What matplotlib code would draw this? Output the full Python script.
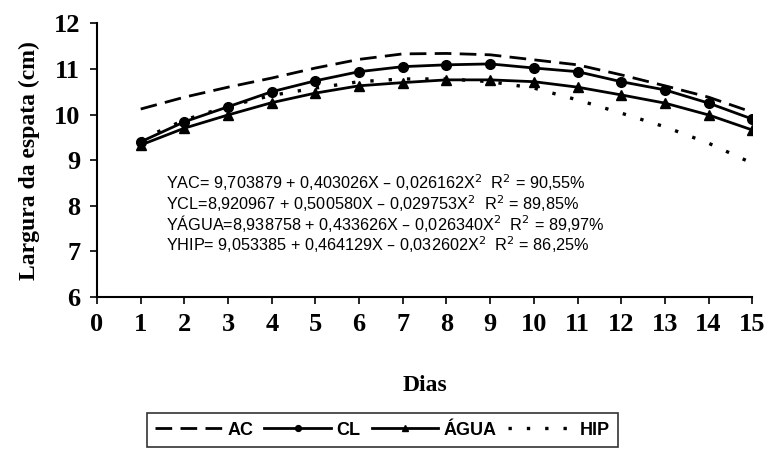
from matplotlib import pyplot as plt

plt.rcParams.update({'font.size': 14})

dias = list(range(1, 16))
ac = [10.12, 10.38, 10.60, 10.80, 11.02, 11.21, 11.33, 11.34, 11.31, 11.20,
      11.09, 10.87, 10.63, 10.38, 10.05]
cl = [9.40, 9.84, 10.17, 10.50, 10.74, 10.94, 11.05, 11.09, 11.11, 11.02,
      10.94, 10.72, 10.54, 10.25, 9.90]
agua = [9.33, 9.70, 9.99, 10.26, 10.47, 10.63, 10.70, 10.76, 10.76, 10.72,
        10.60, 10.43, 10.25, 9.99, 9.66]
hip = [9.45, 9.88, 10.18, 10.42, 10.58, 10.72, 10.78, 10.78, 10.72, 10.58,
       10.32, 10.03, 9.73, 9.37, 8.93]

equacoes = [
    r'YAC= 9,703879 + 0,403026X – 0,026162X$^2$  R$^2$ = 90,55%',
    r'YCL=8,920967 + 0,500580X – 0,029753X$^2$  R$^2$ = 89,85%',
    r'YÁGUA=8,938758 + 0,433626X – 0,026340X$^2$  R$^2$ = 89,97%',
    r'YHIP= 9,053385 + 0,464129X – 0,032602X$^2$  R$^2$ = 86,25%',
]

fig = plt.figure(figsize=(7.7, 4.58), dpi=100)
ax = fig.add_axes([0.126, 0.352, 0.851, 0.597])

ax.plot(dias, ac, color='black', linestyle=(0, (6, 3)), linewidth=2, label='AC')
ax.plot(dias, cl, color='black', linewidth=2, marker='o', markersize=7, label='CL')
ax.plot(dias, agua, color='black', linewidth=2, marker='^', markersize=7, label='ÁGUA')
ax.plot(dias, hip, color='black', linestyle=(0, (1, 4.5)), linewidth=2.4, label='HIP')

ax.set_xlim(0, 15)
ax.set_ylim(6, 12)
ax.set_xticks(range(0, 16))
ax.set_yticks(range(6, 13))
ax.spines['top'].set_visible(False)
ax.spines['right'].set_visible(False)
ax.spines['left'].set_linewidth(1.5)
ax.spines['bottom'].set_linewidth(1.5)
ax.tick_params(direction='out', length=5, width=1.2, pad=7)
for lab in ax.get_xticklabels() + ax.get_yticklabels():
    lab.set_fontfamily('Liberation Serif')
    lab.set_fontweight('bold')
    lab.set_fontsize(19)

ax.set_ylabel('Largura da espata (cm)', fontfamily='Liberation Serif',
              fontweight='bold', fontsize=17, labelpad=10)
ax.set_xlabel('Dias', fontfamily='Liberation Serif', fontweight='bold',
              fontsize=17, labelpad=28)

for i, eq in enumerate(equacoes):
    fig.text(166 / 770, 1 - (183 + i * 20.5) / 458, eq, fontsize=11.7,
             fontfamily='Liberation Sans', va='center', ha='left')

leg = fig.legend(loc='center', bbox_to_anchor=(0.497, 0.061), ncol=4,
                 frameon=True, fancybox=False, edgecolor='black',
                 prop={'family': 'Liberation Sans', 'weight': 'bold', 'size': 13},
                 handlelength=3.7, handletextpad=0.3, columnspacing=0.6,
                 borderpad=0.45, markerscale=0.6)
leg.get_frame().set_linewidth(1.2)

fig.savefig('out.png', dpi=100)
